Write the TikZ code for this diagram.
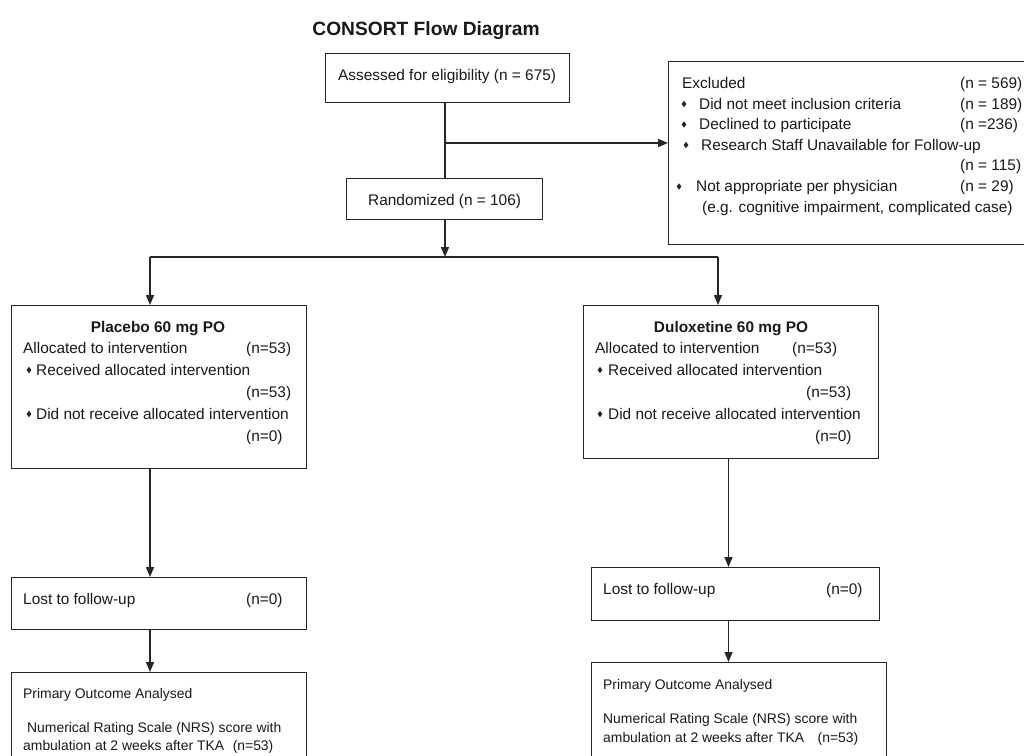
\documentclass[tikz,border=0pt]{standalone}
\usepackage{fontspec}
\setmainfont{Liberation Sans}
\usetikzlibrary{arrows.meta,shapes.geometric}
\begin{document}
\begin{tikzpicture}[x=1pt,y=-1pt,
  ln/.style={line width=1.4pt, draw=black!85},
  arr/.style={ln,-{Triangle[length=10pt,width=8pt]}},
  box/.style={ln, rectangle, inner sep=0pt, anchor=north west},
  txt/.style={anchor=mid west, inner sep=0pt, yshift=-2.5pt, text=black!90, font=\fontsize{15.4}{18}\selectfont},
  stxt/.style={anchor=mid west, inner sep=0pt, yshift=-2.5pt, text=black!90, font=\fontsize{13.9}{16}\selectfont},
  ttl/.style={anchor=mid, inner sep=0pt, yshift=-2.5pt, text=black!90, font=\bfseries\fontsize{15.4}{18}\selectfont},
  bul/.style={diamond, fill=black!85, inner sep=0pt, minimum width=5pt, minimum height=6.5pt},
]
\clip (0,0) rectangle (1024,755);
\fill[white] (0,0) rectangle (1024,755);

\node[anchor=mid, inner sep=0pt, text=black!90, font=\bfseries\fontsize{19.2}{22}\selectfont] (title) at (426,33) {CONSORT Flow Diagram};

% boxes
\node[box, minimum width=244pt, minimum height=49pt] (assess) at (325,53) {};
\node[box, minimum width=196pt, minimum height=41pt] (rand) at (346,178) {};
\node[box, minimum width=400pt, minimum height=183pt] (excl) at (668,61) {};
\node[box, minimum width=295pt, minimum height=163pt] (placebo) at (11,305) {};
\node[box, minimum width=295pt, minimum height=153pt] (dulox) at (583,305) {};
\node[box, minimum width=295pt, minimum height=52pt] (lostL) at (11,577) {};
\node[box, minimum width=288pt, minimum height=53pt] (lostR) at (591,567) {};
\node[box, minimum width=295pt, minimum height=120pt] (primL) at (11,672) {};
\node[box, minimum width=295pt, minimum height=120pt] (primR) at (591,662) {};

% texts
\node[txt] (tA) at (338,75) {Assessed for eligibility (n = 675)};
\node[txt] (tR) at (368,200) {Randomized (n = 106)};

\node[txt] (e1) at (682,83) {Excluded};
\node[txt] (e1n) at (960,83) {(n = 569)};
\node[bul] (eb2) at (684,104) {};
\node[txt] (e2) at (699,104) {Did not meet inclusion criteria};
\node[txt] (e2n) at (960,104) {(n = 189)};
\node[bul] (eb3) at (684,124.5) {};
\node[txt] (e3) at (699,124.5) {Declined to participate};
\node[txt] (e3n) at (960,124.5) {(n =236)};
\node[bul] (eb4) at (686,145) {};
\node[txt] (e4) at (701,145) {Research Staff Unavailable for Follow-up};
\node[txt] (e5n) at (960,165.5) {(n = 115)};
\node[bul] (eb6) at (679,186.5) {};
\node[txt] (e6) at (696,186.5) {Not appropriate per physician};
\node[txt] (e6n) at (960,186.5) {(n = 29)};
\node[txt] (e7) at (702,207) {(e.g. cognitive impairment, complicated case)};

\node[ttl] (pT) at (158,327.5) {Placebo 60 mg PO};
\node[txt] (p1) at (23,348) {Allocated to intervention};
\node[txt] (p1n) at (246,348) {(n=53)};
\node[bul] (pb2) at (29,370) {};
\node[txt] (p2) at (36,370) {Received allocated intervention};
\node[txt] (p2n) at (246,392.5) {(n=53)};
\node[bul] (pb3) at (29,414) {};
\node[txt] (p3) at (36,414) {Did not receive allocated intervention};
\node[txt] (p3n) at (246,436.5) {(n=0)};

\node[ttl] (dT) at (731,327.5) {Duloxetine 60 mg PO};
\node[txt] (d1) at (595,348) {Allocated to intervention};
\node[txt] (d1n) at (792,348) {(n=53)};
\node[bul] (db2) at (600,370) {};
\node[txt] (d2) at (608,370) {Received allocated intervention};
\node[txt] (d2n) at (806,392.5) {(n=53)};
\node[bul] (db3) at (600,414) {};
\node[txt] (d3) at (608,414) {Did not receive allocated intervention};
\node[txt] (d3n) at (815,436.5) {(n=0)};

\node[txt] (l1) at (23,599) {Lost to follow-up};
\node[txt] (l1n) at (246,599) {(n=0)};
\node[txt] (r1) at (603,589) {Lost to follow-up};
\node[txt] (r1n) at (826,589) {(n=0)};

\node[stxt] (q1) at (23,693.5) {Primary Outcome Analysed};
\node[stxt] (q2) at (27,727.5) {Numerical Rating Scale (NRS) score with};
\node[stxt] (q3) at (23,745.5) {ambulation at 2 weeks after TKA\hspace{0.35em} (n=53)};

\node[stxt] (s1) at (603,684.5) {Primary Outcome Analysed};
\node[stxt] (s2) at (603,718.5) {Numerical Rating Scale (NRS) score with};
\node[stxt] (s3) at (603,737) {ambulation at 2 weeks after TKA\hspace{0.7em} (n=53)};

% connectors
\coordinate (cA) at (445,143);
\coordinate (split) at (445,257);
\coordinate (sL) at (150,257);
\coordinate (sR) at (718,257);
\coordinate (xR) at (728.5,0);
\draw[ln] (assess.south -| cA) -- (rand.north -| cA);
\draw[arr] (cA) -- (excl.west |- cA);
\draw[arr] (rand.south -| split) -- (split);
\draw[ln] (sL) -- (sR);
\draw[arr] (sL) -- (placebo.north -| sL);
\draw[arr] (sR) -- (dulox.north -| sR);
\draw[arr] (placebo.south -| sL) -- (lostL.north -| sL);
\draw[arr] (lostL.south -| sL) -- (primL.north -| sL);
\draw[arr] (dulox.south -| xR) -- (lostR.north -| xR);
\draw[arr] (lostR.south -| xR) -- (primR.north -| xR);
\end{tikzpicture}
\end{document}
